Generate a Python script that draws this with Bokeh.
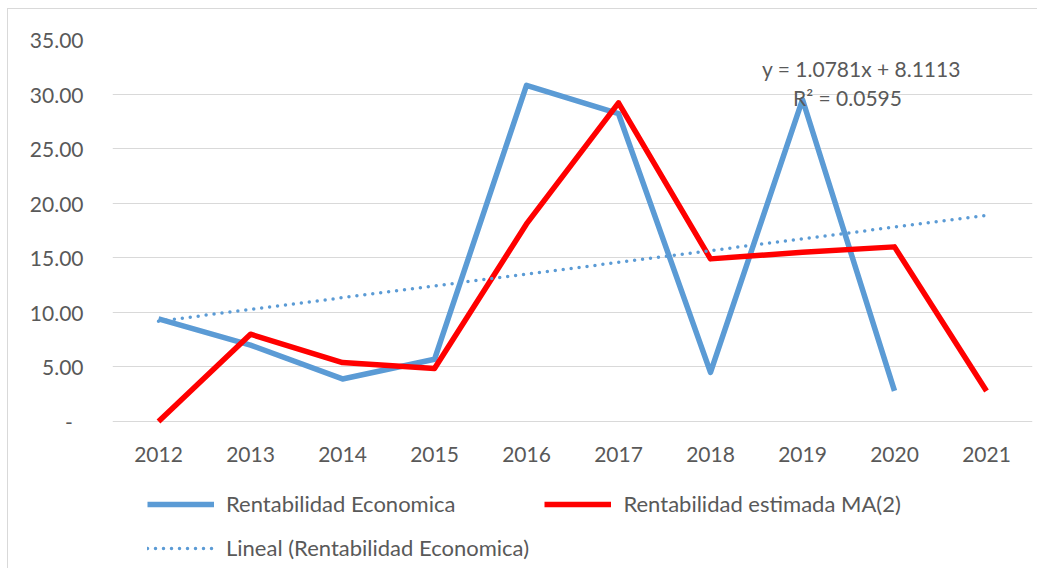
from bokeh.plotting import figure
from bokeh.models import FactorRange, Legend, LegendItem, Label, FixedTicker
from bokeh.embed import file_html
from bokeh.resources import INLINE

years = ["2012", "2013", "2014", "2015", "2016", "2017", "2018", "2019", "2020", "2021"]
rent_econ = [9.4, 7.0, 3.9, 5.7, 30.8, 28.2, 4.5, 29.5, 2.8]
rent_ma2 = [0.0, 8.0, 5.4, 4.85, 18.1, 29.2, 14.9, 15.5, 16.0, 2.8]
trend_slope = 1.0781
trend_intercept = 8.1113
trend_r2 = 0.0595
y_ticks = [0, 5, 10, 15, 20, 25, 30, 35]

trend_vals = [trend_slope * (i + 1) + trend_intercept for i in range(len(years))]

FONT = "Lato"
TXT = "#595959"

# frame extends below zero to make room for the legend (axis drawn at y=0)
p = figure(x_range=FactorRange(*years), y_range=(-13.56, 35),
           width=1030, height=560, output_backend="svg", toolbar_location=None,
           min_border_left=104, min_border_right=6, min_border_top=30, min_border_bottom=0)
p.styles = {"border-left": "1px solid #d9d9d9", "border-top": "1px solid #d9d9d9",
            "margin-left": "7px", "margin-top": "8px"}
p.outline_line_color = None
p.background_fill_color = "white"

p.xgrid.grid_line_color = None
p.ygrid.grid_line_color = "#d9d9d9"
p.ygrid.grid_line_width = 1

p.yaxis.ticker = FixedTicker(ticks=y_ticks)
overrides = {0: "-\u00a0\u00a0"}
for t in y_ticks[1:]:
    overrides[t] = f"{t:.2f}"
p.yaxis.major_label_overrides = overrides
for ax in (p.xaxis, p.yaxis):
    ax.axis_line_color = None
    ax.major_tick_line_color = None
    ax.minor_tick_line_color = None
    ax.major_label_text_font = FONT
    ax.major_label_text_font_size = "21px"
    ax.major_label_text_color = TXT
p.yaxis.major_label_standoff = 23
p.xaxis.major_label_standoff = 19
p.xaxis.fixed_location = 0

r_blue = p.line(years[:len(rent_econ)], rent_econ, line_color="#5b9bd5", line_width=5.5, line_join="round")
r_red = p.line(years, rent_ma2, line_color="#ff0000", line_width=5.5, line_join="round")
r_trend = p.line(years, trend_vals, line_color="#5b9bd5", line_width=3.5, line_dash="0 8", line_cap="round")

p.add_layout(Label(x=749, y=501, x_units="screen", y_units="screen", text=f"y = {trend_slope}x + {trend_intercept}",
                   text_font=FONT, text_font_size="21px", text_color=TXT, text_align="center", text_baseline="middle"))
p.add_layout(Label(x=735, y=472, x_units="screen", y_units="screen", text=f"R\u00b2 = {trend_r2}",
                   text_font=FONT, text_font_size="21px", text_color=TXT, text_align="center", text_baseline="middle"))

common = dict(border_line_color=None, background_fill_alpha=0,
              label_text_font=FONT, label_text_font_size="22px", label_text_color=TXT,
              glyph_width=67, glyph_height=24, label_standoff=12, padding=0, margin=0)
legend1 = Legend(items=[
    LegendItem(label="Rentabilidad Economica", renderers=[r_blue]),
    LegendItem(label="Rentabilidad estimada MA(2)", renderers=[r_red]),
], orientation="horizontal", location=(35, 52), spacing=89, **common)
legend2 = Legend(items=[
    LegendItem(label="Lineal (Rentabilidad Economica)", renderers=[r_trend]),
], orientation="horizontal", location=(35, 8), **common)
p.add_layout(legend1)
p.add_layout(legend2)

open("out.html", "w").write(file_html(p, INLINE))
